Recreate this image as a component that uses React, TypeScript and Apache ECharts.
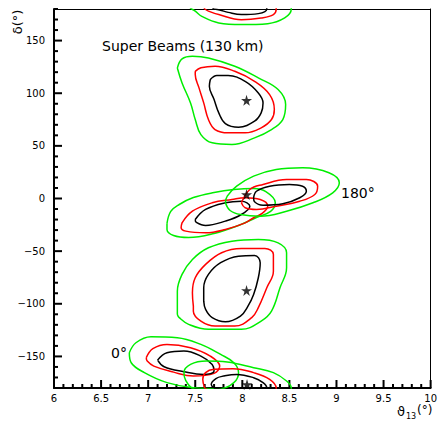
import React, { useEffect, useRef } from "react";
import * as echarts from "echarts";

// ---- data (theta13 in degrees, delta in degrees) ----
const xTickLabels = [6, 6.5, 7, 7.5, 8, 8.5, 9, 9.5, 10];
const yTickLabels = [-150, -100, -50, 0, 50, 100, 150];

// upper island (best fit near delta = 90)
const ubGreen = [[7.31, 124], [7.36, 132.6], [7.47, 135.1], [7.64, 133.5], [7.92, 125.6], [8.17, 114.6], [8.38, 103.5], [8.46, 89.2], [8.43, 75], [8.31, 65.5], [8.13, 57.6], [7.89, 51.3], [7.68, 52.9], [7.56, 60.7], [7.5, 75], [7.45, 90.8], [7.36, 109.8]];
const ubRed = [[7.5, 120.8], [7.56, 124.1], [7.71, 125.6], [7.92, 120.8], [8.13, 111.3], [8.29, 98.7], [8.34, 84.5], [8.31, 75], [8.2, 67.1], [8.03, 62.4], [7.85, 62.4], [7.71, 65.5], [7.64, 75], [7.59, 90.8], [7.54, 105.1], [7.5, 117.7]];
const ubBlack = [[7.66, 113], [7.73, 116.8], [7.85, 116.8], [8.03, 111.3], [8.17, 100.3], [8.22, 90.8], [8.2, 81.3], [8.13, 73.4], [7.96, 67.7], [7.82, 71.2], [7.75, 81.3], [7.7, 94], [7.65, 106.6]];

// lower island (near delta = -90)
const lbGreen = [[7.31, -110.1], [7.31, -88], [7.36, -72.1], [7.47, -57.9], [7.64, -46.8], [7.89, -40.5], [8.17, -38.9], [8.38, -42.1], [8.47, -51.5], [8.47, -65.8], [8.4, -84.8], [8.31, -107], [8.2, -116.5], [7.99, -124.3], [7.64, -124.3], [7.43, -119.6], [7.33, -113.2]];
const lbRed = [[7.48, -102.2], [7.47, -89.5], [7.5, -75.3], [7.61, -62.6], [7.78, -51.5], [7.99, -47.5], [8.24, -47.5], [8.33, -53.2], [8.33, -69], [8.26, -84.8], [8.17, -103.7], [8.1, -113.2], [7.92, -121.2], [7.71, -121.2], [7.56, -116.5], [7.48, -107]];
const lbBlack = [[7.59, -97.5], [7.59, -84.8], [7.64, -72.1], [7.77, -61], [7.96, -54.8], [8.13, -54.1], [8.19, -61], [8.17, -75.3], [8.12, -91.1], [8.06, -102.2], [7.98, -111.7], [7.82, -117.1], [7.68, -113.2], [7.61, -105.4]];

// middle, left clone
const mlGreen = [[7.2, -23.7], [7.24, -12.3], [7.33, -5.7], [7.48, 0.9], [7.7, 5.7], [7.91, 8.5], [8.12, 9.5], [8.25, 6.6], [8.35, -3.8], [8.3, -12.3], [8.15, -18], [7.96, -25.6], [7.7, -33.2], [7.43, -37], [7.27, -35.1], [7.2, -29.4]];
const mlRed = [[7.36, -23.1], [7.47, -12.1], [7.68, -4.1], [7.89, -0.9], [8.03, 0.7], [8.19, -0.9], [8.27, -7.3], [8.21, -14.2], [8.12, -18.3], [8.03, -23.1], [7.82, -29.4], [7.61, -32.6], [7.4, -31], [7.35, -27.5]];
const mlBlack = [[7.5, -19.9], [7.61, -10.4], [7.82, -4.1], [7.99, -2.6], [8.08, -7.3], [7.99, -15.2], [7.82, -21.5], [7.61, -25.6], [7.51, -22.5]];

// middle, right (180 deg) island
const mrGreen = [[7.82, -4.1], [7.84, 2.2], [7.94, 11.7], [8.12, 21.2], [8.36, 27.5], [8.64, 29.1], [8.92, 24.4], [9.03, 14.9], [8.96, 5.4], [8.75, -4.1], [8.47, -12.1], [8.19, -16.8], [7.98, -15.2], [7.87, -11.4]];
const mrRed = [[7.99, -4.1], [8.08, 8.5], [8.22, 13.3], [8.47, 18], [8.68, 18], [8.8, 11.7], [8.77, 3.8], [8.61, -2.6], [8.36, -7.3], [8.15, -10.4], [8.03, -8.8]];
const mrBlack = [[8.12, 0.7], [8.15, 6.9], [8.29, 11.7], [8.5, 13.3], [8.64, 11.7], [8.68, 6.9], [8.61, 0.7], [8.43, -5], [8.22, -6.4], [8.13, -3.1]];

// 0 deg island
const zGreen = [[6.8, -146.5], [6.87, -137], [7.03, -131.3], [7.31, -132.2], [7.56, -138.6], [7.77, -148.1], [7.91, -156], [7.96, -165.4], [7.91, -174.9], [7.77, -180.6], [7.48, -179.7], [7.2, -174.9], [6.96, -165.4], [6.82, -156]];
const zRed = [[6.98, -151.2], [7.05, -142.7], [7.2, -138.6], [7.45, -141.7], [7.66, -149.7], [7.76, -159.2], [7.7, -166.1], [7.48, -168.7], [7.27, -164.9], [7.06, -159.2], [6.99, -154.4]];
const zBlack = [[7.1, -153.5], [7.2, -146.5], [7.38, -144.9], [7.56, -149.7], [7.68, -157.6], [7.7, -163.9], [7.59, -167.1], [7.38, -164.5], [7.17, -159.8]];

// island around delta = -180 (wraps to +180)
const wGreen = [[7.46, -180], [7.4, -173], [7.38, -165.4], [7.45, -157.6], [7.62, -154.4], [7.84, -155.4], [8.12, -160.7], [8.33, -165.4], [8.47, -173.4], [8.52, -180], [8.45, -188.5], [8.27, -193.9], [7.99, -194.8], [7.75, -193.2], [7.57, -187], [7.5, -182]];
const wRed = [[7.6, -180], [7.58, -172], [7.61, -165.4], [7.7, -162.3], [7.9, -161.7], [8.12, -165.4], [8.29, -171.7], [8.36, -180], [8.33, -185.3], [8.2, -188.5], [7.99, -190.1], [7.75, -185.3], [7.64, -182]];
const wBlack = [[7.7, -180], [7.67, -176.6], [7.72, -171], [7.8, -168.7], [7.94, -167.1], [8.12, -170.2], [8.22, -174.9], [8.26, -180], [8.17, -184.4], [7.99, -185.3], [7.85, -183.2], [7.76, -181]];

const starTheta = [8.045, 8.045, 8.045, 8.05];
const starDelta = [93.3, 3.8, -87.3, -176.6];

const X_MIN = 6, X_MAX = 10, Y_MIN = -180, Y_MAX = 180;
const GREEN = "#00ee00";
const RED = "#ff0000";
const BLACK = "#000000";
const FONT = "DejaVu Sans";
const STAR = "path://M50,0 L61,35 L98,35 L68,57 L79,91 L50,70 L21,91 L32,57 L2,35 L39,35 Z";

function contour(pts: number[][], color: string, shift = 0) {
  const d = pts.map((p) => [p[0], p[1] + shift]);
  d.push(d[0]);
  return {
    type: "line",
    data: d,
    smooth: 0.4,
    symbol: "none",
    clip: true,
    silent: true,
    lineStyle: { color, width: 1.5 },
  };
}

const minus = (v: number) => String(v).replace("-", "\u2212");

// tick marks: minor every 0.1 on x, every 10 on y (value, length in px)
const xTicks: number[][] = [];
for (let k = 60; k <= 100; k++) xTicks.push([k / 10, k % 5 === 0 ? 8 : 4]);
const yTicks: number[][] = [];
for (let k = -18; k <= 18; k++) yTicks.push([k % 5 === 0 ? 8 : 4, k * 10]);

export default function App() {
  const ref = useRef<HTMLDivElement>(null);
  useEffect(() => {
    if (!ref.current) return;
    const chart = echarts.init(ref.current, null, { renderer: "svg" });
    const groups: [number[][], string][] = [
      [ubGreen, GREEN], [ubRed, RED], [ubBlack, BLACK],
      [lbGreen, GREEN], [lbRed, RED], [lbBlack, BLACK],
      [mlGreen, GREEN], [mlRed, RED], [mlBlack, BLACK],
      [mrGreen, GREEN], [mrRed, RED], [mrBlack, BLACK],
      [zGreen, GREEN], [zRed, RED], [zBlack, BLACK],
      [wGreen, GREEN], [wRed, RED], [wBlack, BLACK],
    ];
    const series: any[] = groups.map(([p, c]) => contour(p, c));
    // periodic copy of the delta = -180 island at the top edge
    [[wGreen, GREEN], [wRed, RED], [wBlack, BLACK]].forEach(([p, c]: any) => series.push(contour(p, c, 360)));
    series.push({
      type: "scatter",
      data: starTheta.map((t, i) => [t, starDelta[i]]),
      symbol: STAR,
      symbolSize: 11,
      itemStyle: { color: BLACK },
      silent: true,
      z: 5,
    });
    // axis ticks drawn inward from the bottom and left axes
    series.push({
      type: "custom",
      data: xTicks,
      renderItem: (params: any, api: any) => {
        const p = api.coord([api.value(0), Y_MIN]);
        return { type: "line", shape: { x1: p[0], y1: p[1], x2: p[0], y2: p[1] - api.value(1) }, style: { stroke: "#000", lineWidth: 2 } };
      },
    });
    series.push({
      type: "custom",
      data: yTicks,
      renderItem: (params: any, api: any) => {
        const p = api.coord([X_MIN, api.value(1)]);
        return { type: "line", shape: { x1: p[0], y1: p[1], x2: p[0] + api.value(0), y2: p[1] }, style: { stroke: "#000", lineWidth: 2 } };
      },
    });

    const frameAxis = { show: true, onZero: false, lineStyle: { color: "#000", width: 1 } };
    chart.setOption({
      animation: false,
      grid: { left: 54, right: 6, top: 9, bottom: 34 },
      xAxis: [
        {
          type: "value",
          min: X_MIN,
          max: X_MAX,
          interval: 0.5,
          axisLine: { show: true, onZero: false, lineStyle: { color: "#000", width: 2 } },
          axisTick: { show: false },
          axisLabel: { color: "#000", fontSize: 10, fontFamily: FONT, margin: 5, formatter: (v: number) => (xTickLabels.indexOf(v) >= 0 ? String(v) : "") },
          splitLine: { show: false },
        },
        {
          type: "value", position: "top", min: X_MIN, max: X_MAX,
          axisLine: frameAxis, axisTick: { show: false }, axisLabel: { show: false }, splitLine: { show: false },
        },
      ],
      yAxis: [
        {
          type: "value",
          min: Y_MIN,
          max: Y_MAX,
          interval: 10,
          axisLine: { show: true, onZero: false, lineStyle: { color: "#000", width: 2 } },
          axisTick: { show: false },
          axisLabel: {
            color: "#000",
            fontSize: 10,
            fontFamily: FONT,
            margin: 9,
            formatter: (v: number) => (yTickLabels.indexOf(v) >= 0 ? minus(v) : ""),
          },
          splitLine: { show: false },
        },
        {
          type: "value", position: "right", min: Y_MIN, max: Y_MAX,
          axisLine: frameAxis, axisTick: { show: false }, axisLabel: { show: false }, splitLine: { show: false },
        },
      ],
      series,
      graphic: [
        { type: "text", left: 102, top: 39, style: { text: "Super Beams (130 km)", fill: "#000", fontSize: 14, fontFamily: FONT } },
        { type: "text", left: 341, top: 186, style: { text: "180°", fill: "#000", fontSize: 14, fontFamily: FONT } },
        { type: "text", left: 111, top: 346, style: { text: "0°", fill: "#000", fontSize: 14, fontFamily: FONT } },
        { type: "text", x: 17, y: 22, rotation: Math.PI / 2, style: { text: "δ(°)", fill: "#000", fontSize: 13, fontFamily: FONT, align: "center", verticalAlign: "middle" } },
        { type: "text", x: 397, y: 411, style: { text: "ϑ", fill: "#000", fontSize: 13, fontFamily: FONT, align: "left", verticalAlign: "middle" } },
        { type: "text", x: 406, y: 416, style: { text: "13", fill: "#000", fontSize: 8, fontFamily: FONT, align: "left", verticalAlign: "middle" } },
        { type: "text", x: 417, y: 410, style: { text: "(°)", fill: "#000", fontSize: 12, fontFamily: FONT, align: "left", verticalAlign: "middle" } },
      ],
    });
    return () => chart.dispose();
  }, []);
  return <div ref={ref} style={{ position: "fixed", left: 0, top: 0, width: 440, height: 422, background: "#fff" }} />;
}
